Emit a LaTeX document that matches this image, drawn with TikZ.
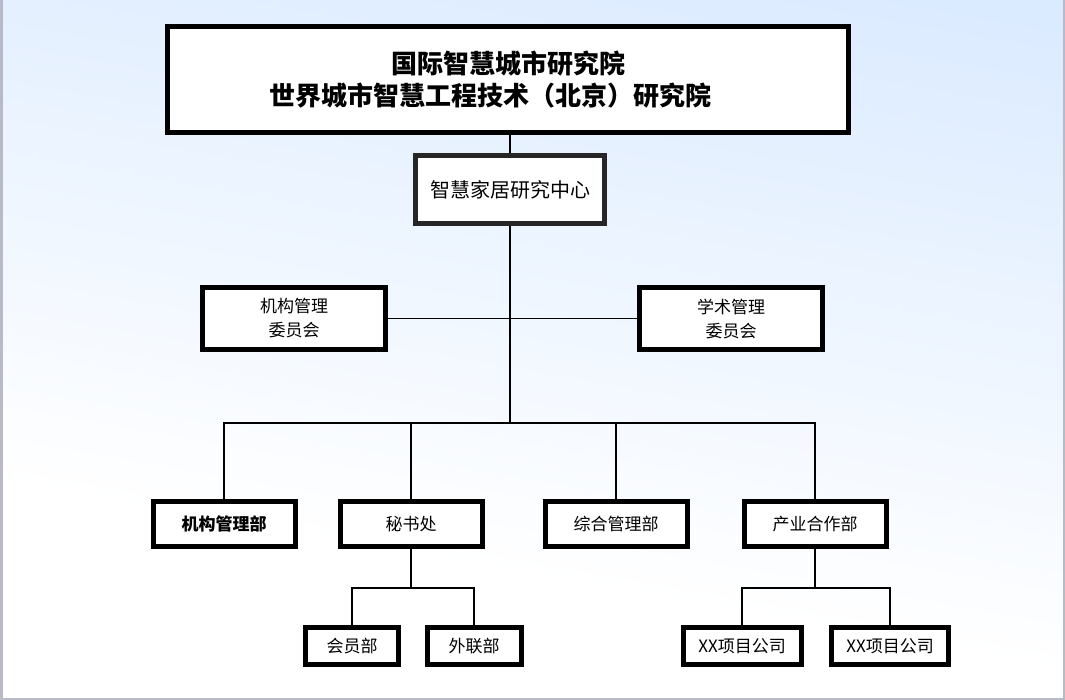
\documentclass[tikz,border=0pt]{standalone}
\usepackage{fontspec}
\usepackage{xcolor}
\usepackage{tikz}
\newfontfamily\cjk{Noto Sans CJK SC}
\definecolor{bgblue}{RGB}{200,224,255}
\definecolor{biankuang}{RGB}{184,186,200}
\pgfdeclareverticalshading{beijing}{100bp}{color(0bp)=(white); color(35bp)=(white); color(100bp)=(bgblue)}
\tikzset{
  kuang/.style={draw=black, line width=5pt, fill=white, inner sep=0pt, align=center,
    font=\cjk\fontsize{17pt}{24pt}\selectfont},
  xian/.style={line width=1.5pt}
}

\begin{document}
\begin{tikzpicture}[x=1pt,y=-1pt]
            %背景与边框
            \shade[shading=beijing, shading angle=-10] (0,0) rectangle (1065,700);
            \useasboundingbox (0,0) rectangle (1065,700);
            \draw[biankuang, line width=5pt] (0,0) -- (0,700) -- (1065,700) -- (1065,0);
            %上面两层
            \node[kuang, minimum width=681pt, minimum height=106pt,
              font=\cjk\bfseries\fontsize{26pt}{32pt}\selectfont] (yuan) at (508,79.5)
              {国际智慧城市研究院\\世界城市智慧工程技术（北京）研究院\hspace*{36pt}};
            \node[kuang, draw=black!85, minimum width=189pt, minimum height=68pt,
              font=\cjk\fontsize{20pt}{24pt}\selectfont] (zhongxin) at (510,189.5) {智慧家居研究中心};
            %两个委员会
            \node[kuang, minimum width=183pt, minimum height=62pt] (jgwyh) at (294,318.5) {机构管理\\委员会};
            \node[kuang, minimum width=183pt, minimum height=62pt] (xswyh) at (731,318.5) {学术管理\\委员会};
            %四个部门
            \node[kuang, minimum width=142pt, minimum height=45pt,
              font=\cjk\bfseries\fontsize{17pt}{24pt}\selectfont] (jgb) at (224,524) {机构管理部};
            \foreach \x/\n/\t in {411/msc/秘书处, 616/zhb/综合管理部, 815/cyb/产业合作部}{
              \node[kuang, minimum width=142pt, minimum height=45pt] (\n) at (\x,524) {\t};}
            %下属单位
            \node[kuang, minimum width=93pt, minimum height=37pt] (hyb) at (352,646) {会员部};
            \node[kuang, minimum width=94pt, minimum height=37pt] (wlb) at (474,646) {外联部};
            \node[kuang, minimum width=118pt, minimum height=37pt] (gs1) at (742,646) {XX项目公司};
            \node[kuang, minimum width=117pt, minimum height=37pt] (gs2) at (890,646) {XX项目公司};
            %连线
            \coordinate (zong) at (510,423);
            \draw[xian] (yuan.south -| zhongxin) -- (zhongxin.north);
            \draw[xian] (zhongxin.south) -- (zong);
            \draw[xian] (jgwyh.east) -- (xswyh.west);
            \foreach \n in {jgb,msc,zhb,cyb}{\draw[xian] (zong) -| (\n.north);}
            \draw[xian] (msc.south) -- ++(0,39) coordinate (ms);
            \draw[xian] (hyb.north) |- (ms) -| (wlb.north);
            \draw[xian] (cyb.south) -- ++(0,39) coordinate (cy);
            \draw[xian] (gs1.north) |- (cy) -| (gs2.north);
        \end{tikzpicture}
\end{document}
